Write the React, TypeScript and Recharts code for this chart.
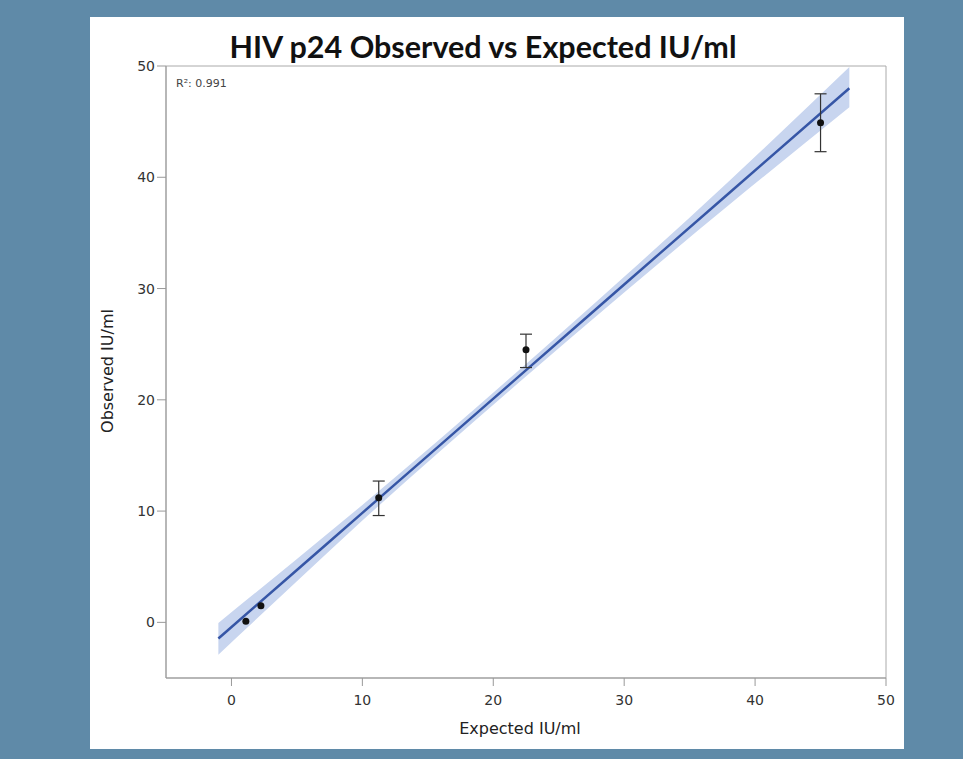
import {
  ComposedChart,
  Area,
  Line,
  Scatter,
  ErrorBar,
  XAxis,
  YAxis,
  ReferenceArea,
} from "recharts";

// measured points (expected vs observed IU/ml)
const expected = [1.1, 2.25, 11.25, 22.5, 45];
const observed = [0.1, 1.5, 11.2, 24.5, 44.9];
const errLow = [0, 0, 1.6, 1.6, 2.6];
const errHigh = [0, 0, 1.5, 1.4, 2.6];

// regression line and its confidence band
const fitX = [-1, 5, 10, 16, 22, 30, 38, 47.2];
const fitY = [-1.45, 4.71, 9.84, 16.0, 22.15, 30.36, 38.57, 48.0];
const bandLow = [-2.9, 3.7, 9.15, 15.45, 21.6, 29.65, 37.5, 46.3];
const bandHigh = [-0.05, 5.7, 10.55, 16.55, 22.7, 31.05, 39.65, 49.9];

const xTicks = [0, 10, 20, 30, 40, 50];
const yTicks = [0, 10, 20, 30, 40, 50];

const fitData = fitX.map((x, i) => ({
  x,
  fit: fitY[i],
  band: [bandLow[i], bandHigh[i]],
}));

const points = expected.map((x, i) => ({
  x,
  y: observed[i],
  err: [errLow[i], errHigh[i]],
}));
const withBars = points.filter((p) => p.err[0] > 0);
const noBars = points.filter((p) => p.err[0] === 0);

const tickStyle = { fontSize: 14, fill: "#333", fontFamily: "DejaVu Sans" };

const Dot = (props: any) => (
  <circle cx={props.cx} cy={props.cy} r={3.5} fill="#111" />
);

export default function App() {
  return (
    <div
      style={{
        position: "absolute",
        left: 0,
        top: 0,
        width: 963,
        height: 759,
        background: "#5f8aa8",
        overflow: "hidden",
      }}
    >
      <div
        style={{
          position: "absolute",
          left: 90,
          top: 17,
          width: 814,
          height: 732,
          background: "#fff",
        }}
      >
        <div
          style={{
            position: "absolute",
            left: -14,
            width: 814,
            top: 11,
            textAlign: "center",
            fontFamily: "Lato",
            fontWeight: 700,
            fontSize: 30.5,
            color: "#111",
            whiteSpace: "nowrap",
          }}
        >
          HIV p24 Observed vs Expected IU/ml
        </div>
        <div
          style={{
            position: "absolute",
            left: 86,
            top: 60,
            fontFamily: "DejaVu Sans",
            fontSize: 11,
            color: "#444",
          }}
        >
          R²: 0.991
        </div>
        <div
          style={{
            position: "absolute",
            left: 17,
            top: 354,
            transform: "translate(-50%, -50%) rotate(-90deg)",
            fontFamily: "DejaVu Sans",
            fontSize: 16,
            color: "#222",
            whiteSpace: "nowrap",
          }}
        >
          Observed IU/ml
        </div>
        <div
          style={{
            position: "absolute",
            left: 430,
            top: 711,
            transform: "translate(-50%, -50%)",
            fontFamily: "DejaVu Sans",
            fontSize: 16,
            color: "#222",
            whiteSpace: "nowrap",
          }}
        >
          Expected IU/ml
        </div>
        <ComposedChart
          width={814}
          height={732}
          data={fitData}
          margin={{ top: 49, right: 18, bottom: 0, left: 0 }}
        >
          <XAxis
            dataKey="x"
            type="number"
            domain={[-5, 50]}
            ticks={xTicks}
            allowDataOverflow
            height={71}
            tickSize={8}
            tickMargin={9}
            stroke="#999"
            tick={tickStyle}
          />
          <YAxis
            type="number"
            domain={[-5, 50]}
            ticks={yTicks}
            allowDataOverflow
            width={76}
            tickSize={9}
            tickMargin={2}
            stroke="#999"
            tick={tickStyle}
          />
          <ReferenceArea
            x1={-5}
            x2={50}
            y1={-5}
            y2={50}
            fill="none"
            stroke="#aaa"
            strokeWidth={1}
          />
          <Area
            dataKey="band"
            type="monotone"
            fill="#c8d5ef"
            fillOpacity={1}
            stroke="none"
            isAnimationActive={false}
          />
          <Line
            dataKey="fit"
            type="monotone"
            stroke="#3656a6"
            strokeWidth={2.5}
            dot={false}
            isAnimationActive={false}
          />
          <Scatter
            data={withBars}
            dataKey="y"
            shape={Dot}
            isAnimationActive={false}
          >
            <ErrorBar
              dataKey="err"
              direction="y"
              width={6}
              stroke="#333"
              strokeWidth={1.2}
            />
          </Scatter>
          <Scatter
            data={noBars}
            dataKey="y"
            shape={Dot}
            isAnimationActive={false}
          />
        </ComposedChart>
      </div>
    </div>
  );
}
